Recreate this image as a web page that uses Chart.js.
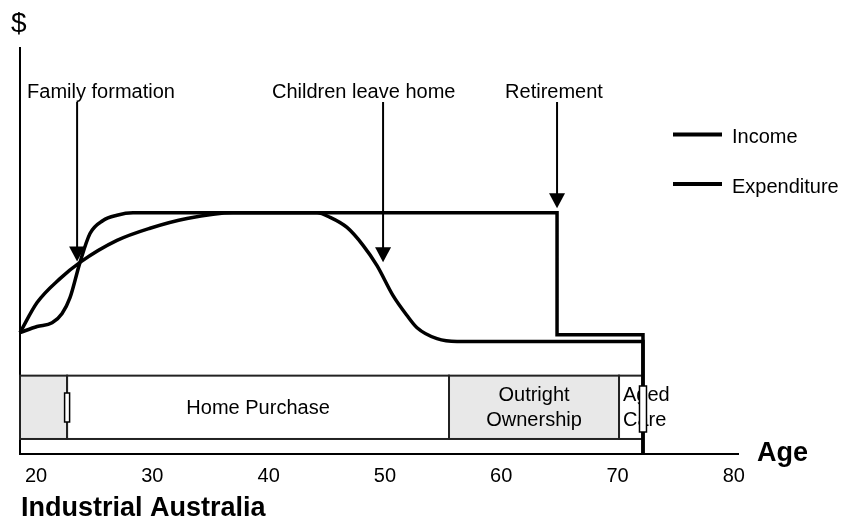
<!DOCTYPE html>
<html>
<head>
<meta charset="utf-8">
<script src="https://cdn.jsdelivr.net/npm/chart.js@4/dist/chart.umd.min.js"></script>
<style>
html, body { margin: 0; padding: 0; background: #fff; }
#wrap { width: 844px; height: 522px; }
</style>
</head>
<body>
<div id="wrap"><canvas id="lifeChart"></canvas></div>
<script>
// Daten (Alter in Jahren, Werte in relativen $-Einheiten)
var incomeAges   = [18.62, 20.09, 21.38, 22.24, 22.92, 23.78, 24.64, 25.76, 26.96, 28.34, 64.80, 64.80, 72.19, 72.19];
var incomeValues = [29.9, 31.4, 32.3, 34.6, 38.5, 47.2, 54.3, 57.5, 58.8, 59.4, 59.4, 29.4, 29.4, 0];

var expenditureAges   = [18.62, 20.09, 22.06, 23.78, 26.96, 29.80, 32.98, 36.94, 44.16, 45.28, 46.74, 48.12,
    49.32, 50.70, 51.90, 52.76, 54.48, 56.20, 72.19, 72.19];
var expenditureValues = [29.9, 37.3, 43.2, 47.2, 52.6, 55.6, 58.0, 59.4, 59.4, 58.3, 55.8, 51.4,
    46.4, 39.0, 34.1, 31.1, 28.4, 27.7, 27.7, 0];

// Lebensabschnitte (Balken unten)
var stageNames  = ['', 'Home Purchase', 'Outright\nOwnership', 'Aged\nCare'];
var stageStarts = [18.62, 22.67, 55.51, 70.13];
var stageEnds   = [22.67, 55.51, 70.13, 72.19];

// Ereignisse mit Pfeil
var eventNames = ['Family formation', 'Children leave home', 'Retirement'];
var eventAges  = [23.53, 49.84, 64.80];
var eventTips  = [47.4, 47.2, 60.5];

var ageTicks = [20, 30, 40, 50, 60, 70, 80];

// Layout / Stil
var FONT = "Arial, 'Liberation Sans', sans-serif";
var stageFills = ['#e8e8e8', '#ffffff', '#e8e8e8', '#ffffff'];
var stageAlign = ['center', 'center', 'center', 'left'];
var eventLabelAges = [19.23, 40.29, 60.33];
var bandTop = 19.3, bandBottom = 3.7, arrowTop = 86.7, labelBase = 87.7;

function toPoints(xs, ys) {
    return xs.map(function (x, i) { return { x: x, y: ys[i] }; });
}

var lifePlugin = {
    id: 'lifeStages',
    beforeDatasetsDraw: function (chart) {
        var ctx = chart.ctx, xs = chart.scales.x, ys = chart.scales.y;
        var top = ys.getPixelForValue(bandTop), bot = ys.getPixelForValue(bandBottom);
        ctx.save();
        ctx.lineWidth = 2;
        ctx.strokeStyle = '#222';
        for (var i = 0; i < stageNames.length; i++) {
            var x0 = xs.getPixelForValue(stageStarts[i]), x1 = xs.getPixelForValue(stageEnds[i]);
            ctx.fillStyle = stageFills[i];
            ctx.fillRect(x0, top, x1 - x0, bot - top);
            ctx.strokeRect(x0, top, x1 - x0, bot - top);
        }
        ctx.fillStyle = '#000';
        ctx.font = '20px ' + FONT;
        ctx.textBaseline = 'middle';
        var mid = (top + bot) / 2 + 1;
        for (var j = 0; j < stageNames.length; j++) {
            if (!stageNames[j]) continue;
            var lines = stageNames[j].split('\n');
            var a = xs.getPixelForValue(stageStarts[j]), b = xs.getPixelForValue(stageEnds[j]);
            ctx.textAlign = stageAlign[j];
            var tx = stageAlign[j] === 'left' ? a + 4 : (a + b) / 2;
            for (var k = 0; k < lines.length; k++) {
                ctx.fillText(lines[k], tx, mid + (k - (lines.length - 1) / 2) * 25);
            }
        }
        ctx.restore();
    },
    afterDatasetsDraw: function (chart) {
        var ctx = chart.ctx, xs = chart.scales.x, ys = chart.scales.y;
        ctx.save();
        // kleine Markierungen an den Übergängen
        ctx.fillStyle = '#fff';
        ctx.strokeStyle = '#000';
        ctx.lineWidth = 1.5;
        var mx = xs.getPixelForValue(stageStarts[1]);
        ctx.fillRect(mx - 2.5, 393, 5, 29);
        ctx.strokeRect(mx - 2.5, 393, 5, 29);
        var my = xs.getPixelForValue(stageEnds[3]);
        ctx.fillRect(my - 3.5, 386, 7, 46);
        ctx.strokeRect(my - 3.5, 386, 7, 46);

        // Pfeile und Beschriftungen
        ctx.fillStyle = '#000';
        ctx.lineWidth = 2;
        ctx.font = '20px ' + FONT;
        ctx.textAlign = 'left';
        ctx.textBaseline = 'alphabetic';
        for (var i = 0; i < eventNames.length; i++) {
            var ex = xs.getPixelForValue(eventAges[i]);
            var y0 = ys.getPixelForValue(arrowTop), y1 = ys.getPixelForValue(eventTips[i]);
            ctx.beginPath();
            ctx.moveTo(ex, y0);
            ctx.lineTo(ex, y1 - 12);
            ctx.stroke();
            ctx.beginPath();
            ctx.moveTo(ex - 8, y1 - 15);
            ctx.lineTo(ex + 8, y1 - 15);
            ctx.lineTo(ex, y1);
            ctx.closePath();
            ctx.fill();
            ctx.fillText(eventNames[i], xs.getPixelForValue(eventLabelAges[i]), ys.getPixelForValue(labelBase));
        }

        // Legende
        var names = chart.data.datasets.map(function (d) { return d.label; });
        for (var k = 0; k < names.length; k++) {
            var ly = 134.5 + k * 49.5;
            ctx.lineWidth = 4;
            ctx.beginPath();
            ctx.moveTo(673, ly);
            ctx.lineTo(722, ly);
            ctx.stroke();
            ctx.fillText(names[k], 732, ly + 8.5);
        }

        // Achsenbeschriftungen und Titel
        ctx.font = '28px ' + FONT;
        ctx.fillText('$', 11, 32);
        ctx.font = 'bold 27px ' + FONT;
        ctx.fillText('Age', 757, 461);
        ctx.fillText('Industrial Australia', 21, 516);
        ctx.restore();
    }
};

new Chart('lifeChart', {
    type: 'line',
    data: {
        datasets: [{
            label: 'Income',
            data: toPoints(incomeAges, incomeValues),
            borderColor: '#000',
            borderWidth: 3.5,
            pointRadius: 0,
            cubicInterpolationMode: 'monotone',
            clip: false
        }, {
            label: 'Expenditure',
            data: toPoints(expenditureAges, expenditureValues),
            borderColor: '#000',
            borderWidth: 3.5,
            pointRadius: 0,
            cubicInterpolationMode: 'monotone',
            clip: false
        }]
    },
    options: {
        responsive: true,
        maintainAspectRatio: false,
        animation: false,
        events: [],
        layout: { padding: { left: 20, top: 48, right: 106, bottom: 24 } },
        scales: {
            x: {
                type: 'linear',
                min: 18.62,
                max: 80.36,
                grid: { display: false, drawTicks: false },
                border: { display: true, color: '#000', width: 2 },
                afterBuildTicks: function (axis) {
                    axis.ticks = ageTicks.map(function (v) { return { value: v }; });
                },
                ticks: {
                    color: '#000',
                    padding: 10,
                    maxRotation: 0,
                    font: { family: FONT, size: 20 }
                }
            },
            y: {
                min: 0,
                max: 100,
                grid: { display: false, drawTicks: false },
                border: { display: true, color: '#000', width: 2 },
                ticks: { display: false }
            }
        },
        plugins: {
            legend: { display: false },
            tooltip: { enabled: false },
            title: { display: false }
        }
    },
    plugins: [lifePlugin]
});
</script>
</body>
</html>
